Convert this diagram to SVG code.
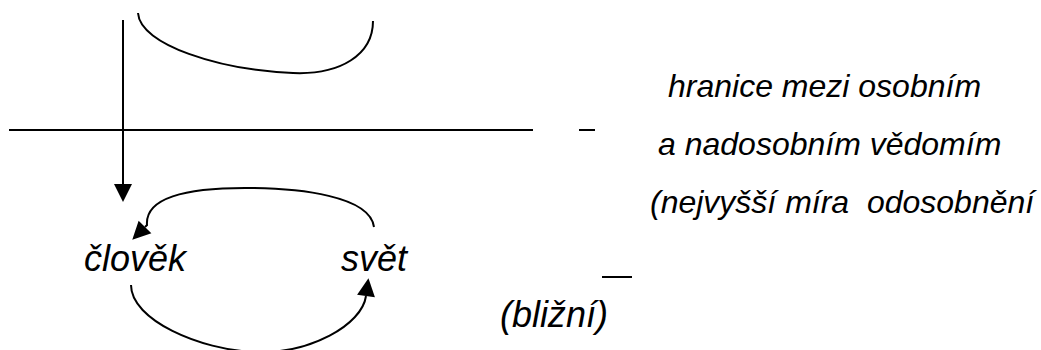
<svg xmlns="http://www.w3.org/2000/svg" width="1041" height="350" viewBox="0 0 1041 350">
<style>
text{font-family:"Liberation Sans",Arial,sans-serif;font-style:italic;fill:#000;white-space:pre}
.big{font-size:36px}
.mid{font-size:32px}
.ln{stroke:#000;stroke-width:2;fill:none}
</style>
<defs>
<marker id="ah" markerUnits="userSpaceOnUse" markerWidth="18" markerHeight="18" refX="0" refY="9" orient="auto" viewBox="0 0 18 18" overflow="visible">
<path d="M0,0 L18,9 L0,18 Z" fill="#000"/>
</marker>
</defs>
<rect width="1041" height="350" fill="#fff"/>
<g id="boundary">
<line class="ln" x1="9" y1="130" x2="533" y2="130"/>
<line class="ln" x1="579" y1="130" x2="595" y2="130"/>
<line class="ln" x1="602" y1="277" x2="632" y2="277"/>
</g>
<g id="node-hranice">
<text class="mid" x="668" y="97">hranice mezi osobním</text>
<text class="mid" x="658" y="155">a nadosobním vědomím</text>
<text class="mid" x="650" y="213">(nejvyšší míra  odosobnění</text>
</g>
<g id="node-clovek"><text class="big" x="84" y="271">člověk</text></g>
<g id="node-svet"><text class="big" x="341" y="271">svět</text></g>
<g id="node-blizni"><text class="big" x="500" y="327">(bližní)</text></g>
<g id="connectors">
<path class="ln" d="M138,13 C140,45 220,70 293,73 C340,75 373,55 373,21"/>
<line class="ln" x1="123" y1="20" x2="123" y2="184" marker-end="url(#ah)"/>
<path class="ln" d="M374,227 C370,196 300,188 245,188 C185,188 145,198 147,225 l-2,2" marker-end="url(#ah)"/>
<path class="ln" d="M131,285 C131,320 200,350 255,352 C310,354 362,325 366,296" marker-end="url(#ah)"/>
</g>
</svg>
